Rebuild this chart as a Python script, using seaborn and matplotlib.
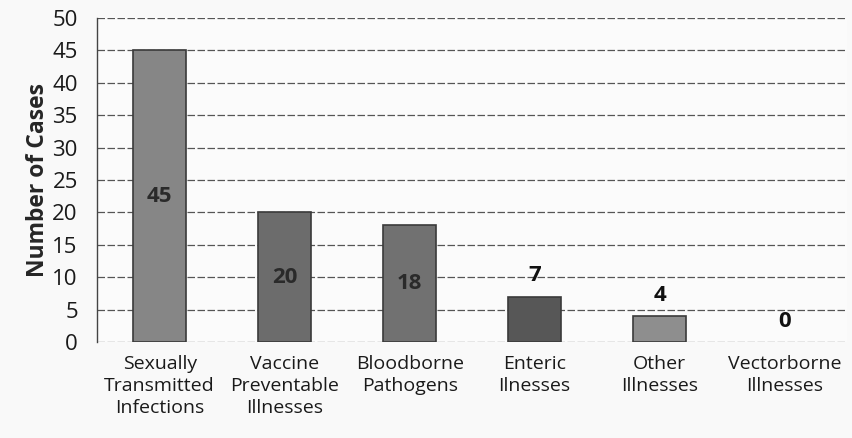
import matplotlib
matplotlib.use("Agg")
import matplotlib.pyplot as plt
import seaborn as sns
import pandas as pd

categories = ["Sexually\nTransmitted\nInfections", "Vaccine\nPreventable\nIllnesses",
              "Bloodborne\nPathogens", "Enteric\nIlnesses", "Other\nIllnesses",
              "Vectorborne\nIllnesses"]
cases = [45, 20, 18, 7, 4, 0]
bar_colors = ["#868686", "#6c6c6c", "#717171", "#575757", "#8e8e8e", "#808080"]

df = pd.DataFrame({"category": categories, "cases": cases})

sns.set_style("white")
plt.rcParams["font.family"] = ["Open Sans", "DejaVu Sans"]
plt.rcParams["text.color"] = "#1a1a1a"
plt.rcParams["xtick.color"] = "#1a1a1a"
plt.rcParams["ytick.color"] = "#1a1a1a"

fig = plt.figure(figsize=(8.53, 4.38), dpi=100)
fig.patch.set_facecolor("#f9f9f9")
ax = fig.add_axes([0.114, 0.219, 0.879, 0.74])
ax.set_facecolor("#fbfbfb")

sns.barplot(data=df, x="category", y="cases", hue="category", palette=bar_colors,
            legend=False, width=0.42, edgecolor="#3a3a3a", linewidth=1.2,
            ax=ax, zorder=3)
# a zero-height bar draws nothing in the original
for p in ax.patches:
    if p.get_height() == 0:
        p.set_linewidth(0)

ax.set_ylim(0, 50)
ax.set_xlim(-0.5, 5.5)
ax.set_yticks(range(0, 51, 5))
ax.yaxis.grid(True, color="#555555", linestyle=(0, (6, 2)), linewidth=0.9, zorder=0)
ax.tick_params(axis="y", labelsize=16, length=0, pad=14)
ax.tick_params(axis="x", labelsize=14, length=0, pad=9)
for lbl in ax.get_xticklabels():
    lbl.set_linespacing(1.3)
ax.set_xlabel("")
ax.set_ylabel("Number of Cases", fontsize=16.5, fontweight="bold", labelpad=2)
for s in ["top", "right", "bottom"]:
    ax.spines[s].set_visible(False)
ax.spines["left"].set_color("#444444")
ax.spines["left"].set_linewidth(1.0)

# value labels: inside for tall bars, above for short ones
for i, v in enumerate(cases):
    if v >= 15:
        ax.text(i, v / 2, str(v), ha="center", va="center", fontsize=16,
                fontweight="bold", color="#2a2a2a", zorder=4)
    else:
        ax.text(i, v + 1.6, str(v), ha="center", va="bottom", fontsize=16,
                fontweight="bold", color="#111111", zorder=4)

fig.savefig("out.png", dpi=100, facecolor=fig.get_facecolor())
